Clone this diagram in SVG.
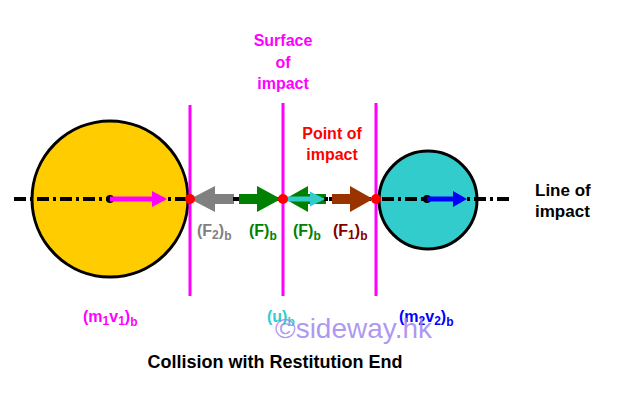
<svg xmlns="http://www.w3.org/2000/svg" width="618" height="413" viewBox="0 0 618 413">
<style>
text{font-family:"Liberation Sans",Arial,sans-serif;font-weight:bold;font-size:16px}
.sub{font-size:12px}
.ball{stroke:#000;stroke-width:3}
.surf{stroke:#FF00FF;stroke-width:3}
.loi{stroke:#000;stroke-width:4;stroke-dasharray:12 4 3 4;fill:none}
.pt{fill:#FF0000}
</style>
<rect width="618" height="413" fill="#fff"/>
<g id="ball1"><circle class="ball" cx="110" cy="199" r="78" fill="#FFCC00"/></g>
<g id="ball2"><circle class="ball" cx="428" cy="200" r="49" fill="#33CCCC"/></g>
<g id="connectors">
<line class="loi" x1="14" y1="199" x2="512" y2="199"/>
<line class="surf" x1="190" y1="105" x2="190" y2="296"/>
<line class="surf" x1="283" y1="103" x2="283" y2="296"/>
<line class="surf" x1="376" y1="103" x2="376" y2="296"/>
<circle cx="110" cy="199" r="4" fill="#000"/>
<circle cx="427" cy="199" r="4" fill="#000"/>
<polygon fill="#FF00FF" points="110,196.5 152,196.5 152,191 167,199 152,207 152,201.5 110,201.5"/>
<polygon fill="#0000FF" points="427,196.5 453,196.5 453,191 467,199 453,207 453,201.5 427,201.5"/>
<polygon fill="#808080" points="190,199 215,186 215,194 234,194 234,204 215,204 215,212"/>
<line x1="233" y1="199" x2="240" y2="199" stroke="#000" stroke-width="4"/>
<polygon fill="#008000" points="239,194 257,194 257,186 281,199 257,212 257,204 239,204"/>
<polygon fill="#008000" points="285,199 308,186 308,194 326,194 326,204 308,204 308,212"/>
<line x1="324" y1="199" x2="328" y2="199" stroke="#000" stroke-width="4"/>
<polygon fill="#33CCCC" points="285,196.5 310,196.5 310,191.5 325,199 310,206.5 310,201.5 285,201.5"/>
<polygon fill="#993300" points="332,194 350,194 350,186 373,199 350,212 350,204 332,204"/>
<circle class="pt" cx="190" cy="199" r="5"/>
<circle class="pt" cx="283" cy="199" r="5"/>
<circle class="pt" cx="376" cy="199" r="5"/>
</g>
<g id="labels">
<text x="283" y="46" fill="#FF00FF" text-anchor="middle">Surface</text>
<text x="283" y="68" fill="#FF00FF" text-anchor="middle">of</text>
<text x="283" y="89" fill="#FF00FF" text-anchor="middle">impact</text>
<text x="332" y="139" fill="#FF0000" text-anchor="middle">Point of</text>
<text x="332" y="160" fill="#FF0000" text-anchor="middle">impact</text>
<text x="535" y="196" fill="#000" style="font-size:17px">Line of</text>
<text x="535" y="217" fill="#000" style="font-size:17px">impact</text>
<text x="197" y="236" fill="#808080">(F<tspan class="sub" dy="3">2</tspan><tspan dy="-3">)</tspan><tspan class="sub" dy="4">b</tspan></text>
<text x="249" y="236" fill="#008000">(F)<tspan class="sub" dy="4">b</tspan></text>
<text x="293" y="236" fill="#008000">(F)<tspan class="sub" dy="4">b</tspan></text>
<text x="333" y="236" fill="#800000">(F<tspan class="sub" dy="3">1</tspan><tspan dy="-3">)</tspan><tspan class="sub" dy="4">b</tspan></text>
<text x="83" y="322" fill="#FF00FF">(m<tspan class="sub" dy="3">1</tspan><tspan dy="-3">v</tspan><tspan class="sub" dy="3">1</tspan><tspan dy="-3">)</tspan><tspan class="sub" dy="4">b</tspan></text>
<text x="267" y="322" fill="#33CCCC">(u)<tspan class="sub" dy="4">b</tspan></text>
<text x="399" y="322" fill="#0000FF">(m<tspan class="sub" dy="3">2</tspan><tspan dy="-3">v</tspan><tspan class="sub" dy="3">2</tspan><tspan dy="-3">)</tspan><tspan class="sub" dy="4">b</tspan></text>
<text x="275" y="338" fill="#9F86EE" fill-opacity="0.85" style="font-weight:normal;font-size:28px">©sideway.hk</text>
<text x="275" y="368" fill="#000" text-anchor="middle" style="font-size:18px">Collision with Restitution End</text>
</g>
</svg>
